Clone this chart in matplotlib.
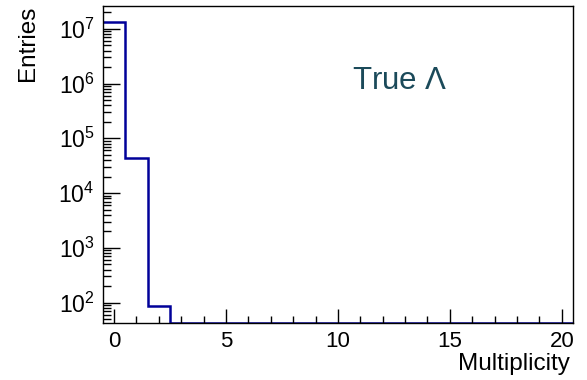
import numpy as np
import matplotlib.pyplot as plt
from matplotlib.ticker import LogLocator, MultipleLocator, NullFormatter

plt.rcParams['font.family'] = ['Liberation Sans', 'DejaVu Sans']
plt.rcParams['mathtext.fontset'] = 'custom'
plt.rcParams['mathtext.rm'] = 'Liberation Sans'

# multiplicity histogram, 21 bins from -0.5 to 20.5
bin_edges = np.arange(-0.5, 21.0, 1.0)
counts = [1.34e7, 4.4e4, 87] + [0] * 18

y_min, y_max = 43, 2.6e7

fig = plt.figure(figsize=(5.87, 3.80), dpi=100)
ax = fig.add_axes([102.8 / 587, 1 - 322.7 / 380, (573 - 102.8) / 587, (322.7 - 6) / 380])

# empty bins sit on the bottom of the log axis
vals = np.where(np.array(counts) > 0, counts, y_min)
ax.stairs(vals, bin_edges, color='#000099', linewidth=1.8, baseline=None)

ax.set_yscale('log')
ax.set_xlim(-0.5, 20.5)
ax.set_ylim(y_min, y_max)

ax.xaxis.set_major_locator(MultipleLocator(5))
ax.xaxis.set_minor_locator(MultipleLocator(1))
ax.yaxis.set_major_locator(LogLocator(base=10, numticks=10))
ax.yaxis.set_minor_locator(LogLocator(base=10, subs=np.arange(2, 10), numticks=20))
ax.yaxis.set_minor_formatter(NullFormatter())

ax.tick_params(which='both', direction='in', top=False, right=False, width=1)
ax.tick_params(axis='x', which='major', length=10, pad=6, labelsize=16)
ax.tick_params(axis='x', which='minor', length=5)
ax.tick_params(axis='y', which='major', length=12, pad=6, labelsize=16.5)
ax.tick_params(axis='y', which='minor', length=6)

for s in ax.spines.values():
    s.set_linewidth(1)

ax.set_xlabel('Multiplicity', fontsize=17.5, loc='right')
ax.set_ylabel('Entries', fontsize=17.5, loc='top')
ax.xaxis.set_label_coords(0.993, -0.097)
ax.yaxis.set_label_coords(-0.135, 1.0)

fig.text(400 / 587, 1 - 81 / 380, 'True $\\Lambda$', fontsize=22.5, color='#1b4a5a',
         ha='center', va='center')

fig.savefig('out.png', dpi=100)
